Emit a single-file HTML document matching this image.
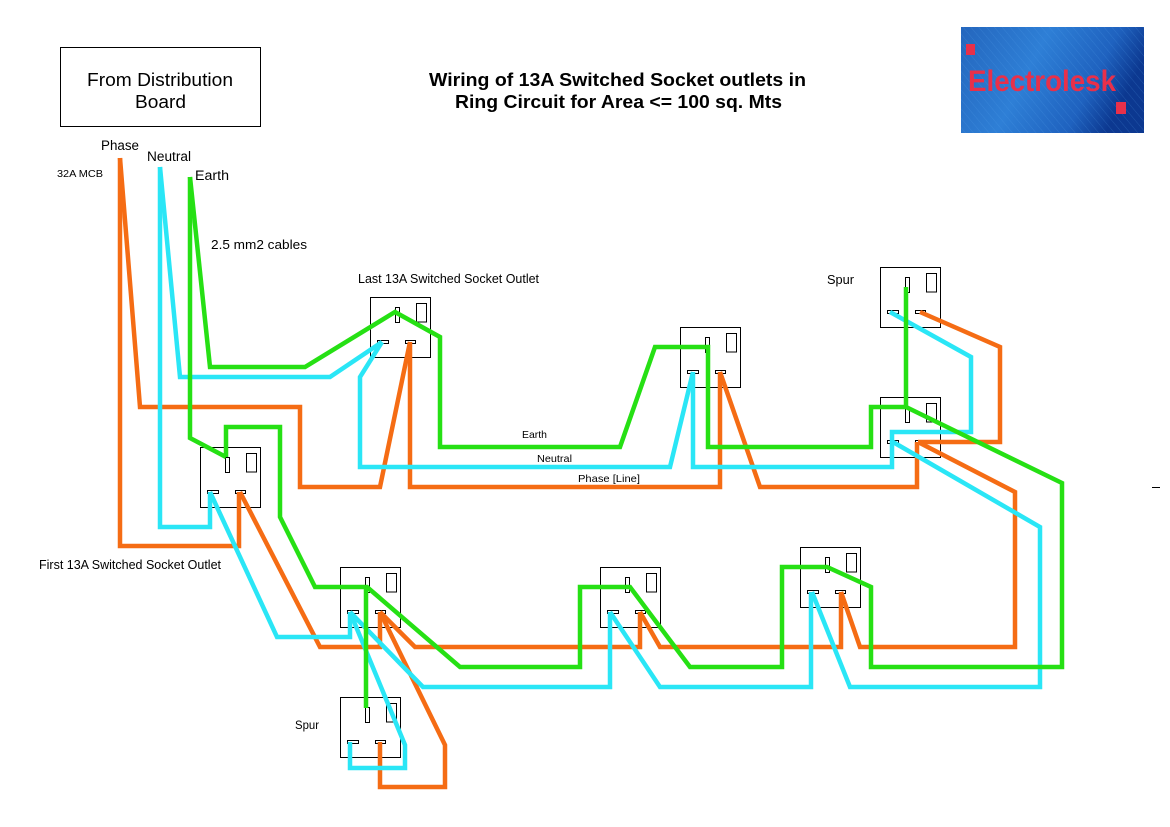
<!DOCTYPE html>
<html>
<head>
<meta charset="utf-8">
<style>
  html, body { margin: 0; padding: 0; background: #ffffff; }
  body { width: 1170px; height: 827px; overflow: hidden; }
  svg { display: block; }
  text { font-family: "Liberation Sans", Arial, sans-serif; fill: #000; }
</style>
</head>
<body>
<svg width="1170" height="827" viewBox="0 0 1170 827" xmlns="http://www.w3.org/2000/svg">
  <defs>
    <linearGradient id="lg" x1="0" y1="0" x2="1" y2="0.3">
      <stop offset="0" stop-color="#2466bd"/>
      <stop offset="0.45" stop-color="#2e7fd6"/>
      <stop offset="0.8" stop-color="#1f62bf"/>
      <stop offset="1" stop-color="#0c3890"/>
    </linearGradient>
    <pattern id="stripes" width="6" height="6" patternUnits="userSpaceOnUse" patternTransform="rotate(-40)">
      <rect width="6" height="6" fill="none"/>
      <line x1="0" y1="0" x2="0" y2="6" stroke="#5aa8ee" stroke-width="1" opacity="0.25"/>
    </pattern>
  </defs>

  <!-- Distribution board box -->
  <rect x="60.5" y="47.5" width="200" height="79" fill="#fff" stroke="#000" stroke-width="1"/>
  <text x="87" y="86" font-size="18" textLength="146" lengthAdjust="spacingAndGlyphs">From Distribution</text>
  <text x="135" y="108" font-size="18" textLength="51" lengthAdjust="spacingAndGlyphs">Board</text>

  <!-- Title -->
  <text x="429" y="86" font-size="18" font-weight="bold" textLength="377" lengthAdjust="spacingAndGlyphs">Wiring of 13A Switched Socket outlets in</text>
  <text x="455" y="108" font-size="18" font-weight="bold" textLength="327" lengthAdjust="spacingAndGlyphs">Ring Circuit for Area &lt;= 100 sq. Mts</text>

  <!-- Logo -->
  <rect x="961" y="27" width="183" height="106" fill="url(#lg)"/>
  <rect x="961" y="27" width="183" height="106" fill="url(#stripes)"/>
  <rect x="966" y="44" width="9" height="11" fill="#e8304a"/>
  <rect x="1116" y="102" width="10" height="12" fill="#e8304a"/>
  <text x="968" y="91" font-size="30" font-weight="bold" style="fill:#e8304a" textLength="148" lengthAdjust="spacingAndGlyphs">Electrolesk</text>

  <!-- Labels -->
  <text x="101" y="150" font-size="13.5" textLength="38" lengthAdjust="spacingAndGlyphs">Phase</text>
  <text x="147" y="161" font-size="13.5" textLength="44" lengthAdjust="spacingAndGlyphs">Neutral</text>
  <text x="195" y="180" font-size="13.5" textLength="34" lengthAdjust="spacingAndGlyphs">Earth</text>
  <text x="57" y="177" font-size="10.5" textLength="46" lengthAdjust="spacingAndGlyphs">32A MCB</text>
  <text x="211" y="249" font-size="13" textLength="96" lengthAdjust="spacingAndGlyphs">2.5 mm2 cables</text>
  <text x="358" y="283" font-size="12.5" textLength="181" lengthAdjust="spacingAndGlyphs">Last 13A Switched Socket Outlet</text>
  <text x="827" y="284" font-size="13" textLength="27" lengthAdjust="spacingAndGlyphs">Spur</text>
  <text x="522" y="438" font-size="10.5" textLength="25" lengthAdjust="spacingAndGlyphs">Earth</text>
  <text x="537" y="462" font-size="10.5" textLength="35" lengthAdjust="spacingAndGlyphs">Neutral</text>
  <text x="578" y="482" font-size="10.5" textLength="62" lengthAdjust="spacingAndGlyphs">Phase [Line]</text>
  <text x="39" y="569" font-size="12.5" textLength="182" lengthAdjust="spacingAndGlyphs">First 13A Switched Socket Outlet</text>
  <text x="295" y="729" font-size="12" textLength="24" lengthAdjust="spacingAndGlyphs">Spur</text>
  <line x1="1152" y1="487.5" x2="1160" y2="487.5" stroke="#000" stroke-width="1"/>

  <!-- Sockets -->
  <g fill="#fff" stroke="#000" stroke-width="1">
    <g transform="translate(370,297)">
      <rect x="0.5" y="0.5" width="60" height="60"/><rect x="25.5" y="10.5" width="4" height="15"/><rect x="46.5" y="6.5" width="10" height="18.5"/><rect x="7.5" y="43.5" width="11" height="3"/><rect x="35.5" y="43.5" width="10" height="3"/>
    </g>
    <g transform="translate(680,327)">
      <rect x="0.5" y="0.5" width="60" height="60"/><rect x="25.5" y="10.5" width="4" height="15"/><rect x="46.5" y="6.5" width="10" height="18.5"/><rect x="7.5" y="43.5" width="11" height="3"/><rect x="35.5" y="43.5" width="10" height="3"/>
    </g>
    <g transform="translate(880,267)">
      <rect x="0.5" y="0.5" width="60" height="60"/><rect x="25.5" y="10.5" width="4" height="15"/><rect x="46.5" y="6.5" width="10" height="18.5"/><rect x="7.5" y="43.5" width="11" height="3"/><rect x="35.5" y="43.5" width="10" height="3"/>
    </g>
    <g transform="translate(880,397)">
      <rect x="0.5" y="0.5" width="60" height="60"/><rect x="25.5" y="10.5" width="4" height="15"/><rect x="46.5" y="6.5" width="10" height="18.5"/><rect x="7.5" y="43.5" width="11" height="3"/><rect x="35.5" y="43.5" width="10" height="3"/>
    </g>
    <g transform="translate(200,447)">
      <rect x="0.5" y="0.5" width="60" height="60"/><rect x="25.5" y="10.5" width="4" height="15"/><rect x="46.5" y="6.5" width="10" height="18.5"/><rect x="7.5" y="43.5" width="11" height="3"/><rect x="35.5" y="43.5" width="10" height="3"/>
    </g>
    <g transform="translate(340,567)">
      <rect x="0.5" y="0.5" width="60" height="60"/><rect x="25.5" y="10.5" width="4" height="15"/><rect x="46.5" y="6.5" width="10" height="18.5"/><rect x="7.5" y="43.5" width="11" height="3"/><rect x="35.5" y="43.5" width="10" height="3"/>
    </g>
    <g transform="translate(600,567)">
      <rect x="0.5" y="0.5" width="60" height="60"/><rect x="25.5" y="10.5" width="4" height="15"/><rect x="46.5" y="6.5" width="10" height="18.5"/><rect x="7.5" y="43.5" width="11" height="3"/><rect x="35.5" y="43.5" width="10" height="3"/>
    </g>
    <g transform="translate(800,547)">
      <rect x="0.5" y="0.5" width="60" height="60"/><rect x="25.5" y="10.5" width="4" height="15"/><rect x="46.5" y="6.5" width="10" height="18.5"/><rect x="7.5" y="43.5" width="11" height="3"/><rect x="35.5" y="43.5" width="10" height="3"/>
    </g>
    <g transform="translate(340,697)">
      <rect x="0.5" y="0.5" width="60" height="60"/><rect x="25.5" y="10.5" width="4" height="15"/><rect x="46.5" y="6.5" width="10" height="18.5"/><rect x="7.5" y="43.5" width="11" height="3"/><rect x="35.5" y="43.5" width="10" height="3"/>
    </g>
  </g>

  <!-- Wires -->
  <g fill="none" stroke-width="4.5" stroke-linejoin="miter" stroke-miterlimit="3" stroke-linecap="butt">
    <!-- Phase (orange) -->
    <g stroke="#f56c14">
      <polyline points="120,158 120,546 239,546 239,492"/>
      <polyline points="120,158 140,407 300,407 300,487 380,487 410,342"/>
      <polyline points="410,342 410,487 720,487 720,372"/>
      <polyline points="720,372 760,487 917,487 917,442"/>
      <polyline points="920,312 1000,347 1000,442 918,442"/>
      <polyline points="918,442 1015,492 1015,647 860,647 841,592"/>
      <polyline points="841,592 841,647 660,647 640,612"/>
      <polyline points="640,612 640,647 415,647 380,612"/>
      <polyline points="240,492 320,647 380,647 380,612"/>
      <polyline points="380,612 445,745 445,787 380,787 380,742"/>
    </g>
    <!-- Neutral (cyan) -->
    <g stroke="#2ae6f6">
      <polyline points="160,167 160,527 210,527 210,492"/>
      <polyline points="160,167 180,377 330,377 382,342"/>
      <polyline points="382,342 360,377 360,467 670,467 693,372"/>
      <polyline points="693,372 693,467 892,467 892,432 971,432 971,357 890,312"/>
      <polyline points="893,442 1040,527 1040,687 850,687 812,592"/>
      <polyline points="811,592 811,687 660,687 610,612"/>
      <polyline points="610,612 610,687 423,687 350,612"/>
      <polyline points="210,492 277,637 350,637 350,612"/>
      <polyline points="350,612 405,745 405,768 350,768 350,742"/>
    </g>
    <!-- Earth (green) -->
    <g stroke="#26e014">
      <polyline points="190,177 190,438 226,457"/>
      <polyline points="190,177 210,367 305,367 395,312 440,337 440,447 620,447 655,347 708,347 708,447 871,447 871,407 906,407"/>
      <polyline points="906,287 906,407"/>
      <polyline points="906,407 1062,483 1062,667 871,667 871,587 827,567 782,567 782,667 690,667 630,587 580,587 580,667 460,667 367,587 315,587 280,517 280,427 226,427 226,457"/>
      <polyline points="366,587 366,708"/>
    </g>
  </g>
</svg>
</body>
</html>
